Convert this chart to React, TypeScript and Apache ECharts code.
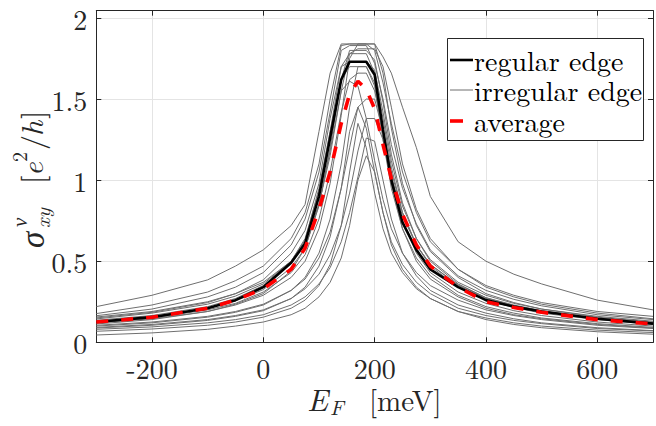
import React, { useEffect, useRef } from "react";
import * as echarts from "echarts";

// Fermi energy sample points (meV)
const X_MEV = [-300, -200, -100, -50, 0, 50, 75, 100, 120, 140, 155, 170, 185, 200, 215, 230, 250, 275, 300, 350, 400, 450, 500, 600, 700];

const X_TICKS = [-200, 0, 200, 400, 600];
const Y_TICKS = [0, 0.5, 1, 1.5, 2];

// regular edge (thick black)
const REGULAR = [0.125, 0.155, 0.21, 0.26, 0.34, 0.49, 0.61, 0.9, 1.26, 1.62, 1.73, 1.73, 1.73, 1.65, 1.31, 1.0, 0.74, 0.57, 0.45, 0.34, 0.26, 0.22, 0.19, 0.145, 0.115];

// average (red dashed)
const AVERAGE = [0.125, 0.154, 0.21, 0.26, 0.33, 0.45, 0.58, 0.82, 1.05, 1.35, 1.53, 1.61, 1.56, 1.44, 1.22, 1.01, 0.79, 0.6, 0.47, 0.34, 0.25, 0.215, 0.185, 0.14, 0.113];

// irregular edges (thin grey)
const IRR_01 = [0.22, 0.29, 0.385, 0.47, 0.57, 0.72, 0.85, 1.3, 1.66, 1.84, 1.84, 1.84, 1.84, 1.84, 1.76, 1.66, 1.45, 1.2, 0.9, 0.62, 0.5, 0.42, 0.36, 0.26, 0.2];
const IRR_02 = [0.177, 0.23, 0.31, 0.38, 0.47, 0.64, 0.8, 1.1, 1.5, 1.83, 1.84, 1.84, 1.84, 1.8, 1.6, 1.35, 1.05, 0.8, 0.62, 0.45, 0.35, 0.29, 0.245, 0.19, 0.16];
const IRR_03 = [0.164, 0.205, 0.28, 0.34, 0.43, 0.6, 0.76, 1.05, 1.42, 1.8, 1.83, 1.83, 1.83, 1.72, 1.5, 1.22, 0.95, 0.73, 0.57, 0.41, 0.32, 0.265, 0.225, 0.17, 0.14];
const IRR_04 = [0.156, 0.19, 0.25, 0.3, 0.37, 0.5, 0.62, 0.85, 1.15, 1.55, 1.78, 1.81, 1.81, 1.81, 1.7, 1.45, 1.1, 0.82, 0.64, 0.45, 0.34, 0.28, 0.235, 0.18, 0.145];
const IRR_05 = [0.144, 0.18, 0.235, 0.285, 0.36, 0.5, 0.64, 0.93, 1.3, 1.7, 1.78, 1.78, 1.78, 1.66, 1.38, 1.08, 0.8, 0.6, 0.48, 0.35, 0.27, 0.225, 0.19, 0.145, 0.12];
const IRR_06 = [0.136, 0.165, 0.22, 0.27, 0.35, 0.5, 0.63, 0.95, 1.3, 1.62, 1.7, 1.7, 1.7, 1.6, 1.3, 1.02, 0.78, 0.6, 0.48, 0.355, 0.275, 0.23, 0.195, 0.15, 0.12];
const IRR_07 = [0.125, 0.15, 0.2, 0.24, 0.31, 0.43, 0.54, 0.76, 1.05, 1.42, 1.62, 1.66, 1.66, 1.55, 1.32, 1.05, 0.8, 0.6, 0.47, 0.34, 0.26, 0.215, 0.18, 0.14, 0.11];
const IRR_08 = [0.113, 0.14, 0.19, 0.235, 0.3, 0.44, 0.58, 0.85, 1.18, 1.55, 1.61, 1.58, 1.38, 1.12, 0.88, 0.7, 0.55, 0.43, 0.35, 0.26, 0.2, 0.165, 0.14, 0.105, 0.085];
const IRR_09 = [0.105, 0.125, 0.16, 0.19, 0.235, 0.32, 0.39, 0.52, 0.68, 0.95, 1.2, 1.45, 1.5, 1.5, 1.3, 1.02, 0.75, 0.55, 0.43, 0.31, 0.24, 0.195, 0.165, 0.125, 0.1];
const IRR_10 = [0.092, 0.11, 0.14, 0.165, 0.2, 0.27, 0.33, 0.42, 0.54, 0.72, 0.92, 1.18, 1.38, 1.38, 1.25, 0.98, 0.7, 0.5, 0.39, 0.28, 0.21, 0.17, 0.145, 0.11, 0.088];
const IRR_11 = [0.08, 0.095, 0.12, 0.14, 0.17, 0.23, 0.28, 0.36, 0.46, 0.62, 0.8, 1.02, 1.26, 1.24, 1.0, 0.76, 0.55, 0.41, 0.32, 0.23, 0.18, 0.145, 0.12, 0.09, 0.072];
const IRR_12 = [0.068, 0.082, 0.105, 0.125, 0.155, 0.21, 0.26, 0.35, 0.48, 0.72, 1.05, 1.35, 1.2, 0.92, 0.7, 0.55, 0.43, 0.33, 0.27, 0.19, 0.15, 0.12, 0.1, 0.075, 0.06];
const IRR_13 = [0.045, 0.058, 0.08, 0.1, 0.125, 0.17, 0.21, 0.28, 0.37, 0.52, 0.72, 1.0, 1.15, 1.05, 0.8, 0.6, 0.45, 0.34, 0.27, 0.19, 0.14, 0.11, 0.09, 0.065, 0.05];
const IRR_14 = [0.15, 0.185, 0.245, 0.3, 0.385, 0.55, 0.69, 0.98, 1.38, 1.7, 1.73, 1.73, 1.73, 1.68, 1.42, 1.12, 0.84, 0.64, 0.51, 0.37, 0.29, 0.24, 0.205, 0.16, 0.13];
const IRR_15 = [0.12, 0.145, 0.19, 0.23, 0.29, 0.4, 0.5, 0.7, 0.98, 1.4, 1.75, 1.84, 1.84, 1.84, 1.66, 1.32, 0.98, 0.72, 0.56, 0.4, 0.3, 0.245, 0.205, 0.155, 0.125];
const IRR_16 = [0.1, 0.12, 0.155, 0.185, 0.23, 0.32, 0.4, 0.55, 0.76, 1.1, 1.45, 1.7, 1.7, 1.58, 1.25, 0.95, 0.7, 0.52, 0.41, 0.29, 0.22, 0.18, 0.15, 0.115, 0.092];
const IRR_17 = [0.088, 0.105, 0.135, 0.16, 0.195, 0.27, 0.34, 0.47, 0.65, 0.95, 1.3, 1.45, 1.32, 1.05, 0.8, 0.62, 0.48, 0.37, 0.3, 0.21, 0.165, 0.135, 0.115, 0.085, 0.07];
const IRR_18 = [0.13, 0.16, 0.21, 0.255, 0.325, 0.46, 0.58, 0.84, 1.2, 1.62, 1.8, 1.8, 1.8, 1.74, 1.48, 1.16, 0.86, 0.64, 0.5, 0.36, 0.275, 0.225, 0.19, 0.145, 0.115];

const IRREGULAR = [IRR_01, IRR_02, IRR_03, IRR_04, IRR_05, IRR_06, IRR_07, IRR_08, IRR_09, IRR_10, IRR_11, IRR_12, IRR_13, IRR_14, IRR_15, IRR_16, IRR_17, IRR_18];

const LEGEND_LABELS = ["regular edge", "irregular edge", "average"];

const SERIF = "Latin Modern Roman";
const AXIS_COLOR = "#262626";
const GREY = "#6f6f6f";

const pairs = (ys: number[]) => X_MEV.map((x, i) => [x, ys[i]]);

const txt = (text: string, x: number, y: number, size: number, italic: boolean) => ({
  type: "text",
  x,
  y,
  z: 10,
  style: {
    text,
    fontFamily: SERIF,
    fontSize: size,
    fontStyle: italic ? "italic" : "normal",
    lineHeight: Math.round(size * 0.8),
    fill: AXIS_COLOR,
    verticalAlign: "middle",
    align: "left",
  },
});

export default function App() {
  const ref = useRef<HTMLDivElement>(null);
  useEffect(() => {
    if (!ref.current) return;
    const chart = echarts.init(ref.current, undefined, { renderer: "svg" });

    const series: any[] = IRREGULAR.map((ys, k) => ({
      type: "line",
      name: k === 0 ? LEGEND_LABELS[1] : "irr" + k,
      data: pairs(ys),
      symbol: "none",
      lineStyle: { color: GREY, width: 1 },
      z: 2,
    }));
    series.push({
      type: "line",
      name: LEGEND_LABELS[0],
      data: pairs(REGULAR),
      symbol: "none",
      lineStyle: { color: "#000000", width: 2.6 },
      z: 3,
    });
    series.push({
      type: "line",
      name: LEGEND_LABELS[2],
      data: pairs(AVERAGE),
      symbol: "none",
      lineStyle: { color: "#ff0000", width: 3.6, type: [12, 13] },
      z: 4,
    });

    const isTick = (arr: number[], v: number) => arr.some((t) => Math.abs(t - v) < 1e-9);

    const legX = 447, legY = 38, legW = 196, legH = 102;
    const rows = [60, 90, 121];

    const axisBase = {
      type: "value",
      axisLine: { onZero: false, lineStyle: { color: AXIS_COLOR, width: 1 } },
      axisTick: { inside: true, length: 5, lineStyle: { color: AXIS_COLOR } },
    };

    const option: any = {
      animation: false,
      backgroundColor: "#ffffff",
      textStyle: { fontFamily: SERIF },
      grid: { left: 96.3, top: 10.7, right: 0, bottom: 83.7, containLabel: false },
      xAxis: [
        {
          ...axisBase,
          min: -300,
          max: 700,
          splitNumber: 5,
          position: "bottom",
          axisLabel: {
            margin: 14,
            color: AXIS_COLOR,
            fontFamily: SERIF,
            fontSize: 28,
            lineHeight: 22,
            formatter: (v: number) => (isTick(X_TICKS, v) ? String(v) : ""),
          },
          splitLine: { show: true, lineStyle: { color: "#e4e4e4", width: 1 } },
        },
        {
          ...axisBase,
          min: -300,
          max: 700,
          splitNumber: 5,
          position: "top",
          axisLabel: { show: false },
          splitLine: { show: false },
        },
      ],
      yAxis: [
        {
          ...axisBase,
          min: 0,
          max: 2.045,
          interval: 0.5,
          position: "left",
          axisLabel: {
            margin: 9,
            color: AXIS_COLOR,
            fontFamily: SERIF,
            fontSize: 28,
            lineHeight: 22,
            formatter: (v: number) => (isTick(Y_TICKS, v) ? String(v) : ""),
          },
          splitLine: { show: true, lineStyle: { color: "#e4e4e4", width: 1 } },
        },
        {
          ...axisBase,
          min: 0,
          max: 2.045,
          interval: 0.5,
          position: "right",
          axisLabel: { show: false },
          splitLine: { show: false },
        },
      ],
      series,
      graphic: [
        // x-axis title
        txt("E", 307, 398, 31, true),
        txt("F", 330, 406, 21, true),
        txt("[meV]", 369, 398, 29, false),
        // y-axis title (rotated)
        {
          type: "group",
          x: 40,
          y: 248,
          rotation: Math.PI / 2,
          z: 10,
          children: [
            txt("σ", 0, -10, 33, true),
            txt("ν", 21, -22, 21, true),
            txt("xy", 20, 1, 21, true),
            txt("[", 64, -10, 30, false),
            txt("e", 72, -10, 30, true),
            txt("2", 86, -22, 20, false),
            txt("/", 98, -10, 30, false),
            txt("h", 112, -10, 30, true),
            txt("]", 129, -10, 30, false),
          ],
        },
        // legend box
        { type: "rect", z: 20, shape: { x: legX + 0.5, y: legY + 0.5, width: legW, height: legH }, style: { fill: "#ffffff", stroke: AXIS_COLOR, lineWidth: 1 } },
        { type: "line", z: 21, shape: { x1: 450, y1: rows[0], x2: 473, y2: rows[0] }, style: { stroke: "#000000", lineWidth: 2.6 } },
        { type: "line", z: 21, shape: { x1: 450, y1: rows[1], x2: 473, y2: rows[1] }, style: { stroke: GREY, lineWidth: 1 } },
        { type: "line", z: 21, shape: { x1: 450, y1: rows[2], x2: 463, y2: rows[2] }, style: { stroke: "#ff0000", lineWidth: 3.6 } },
        ...LEGEND_LABELS.map((t, i) => ({
          type: "text",
          z: 21,
          x: 474,
          y: rows[i] - 1,
          style: { text: t, fontFamily: SERIF, fontSize: 28, lineHeight: 24, fill: "#000000", verticalAlign: "middle", align: "left" },
        })),
      ],
    };
    chart.setOption(option);
    return () => chart.dispose();
  }, []);

  return (
    <div
      ref={ref}
      style={{ position: "absolute", left: 0, top: 0, width: 656, height: 426, background: "#ffffff" }}
    />
  );
}
